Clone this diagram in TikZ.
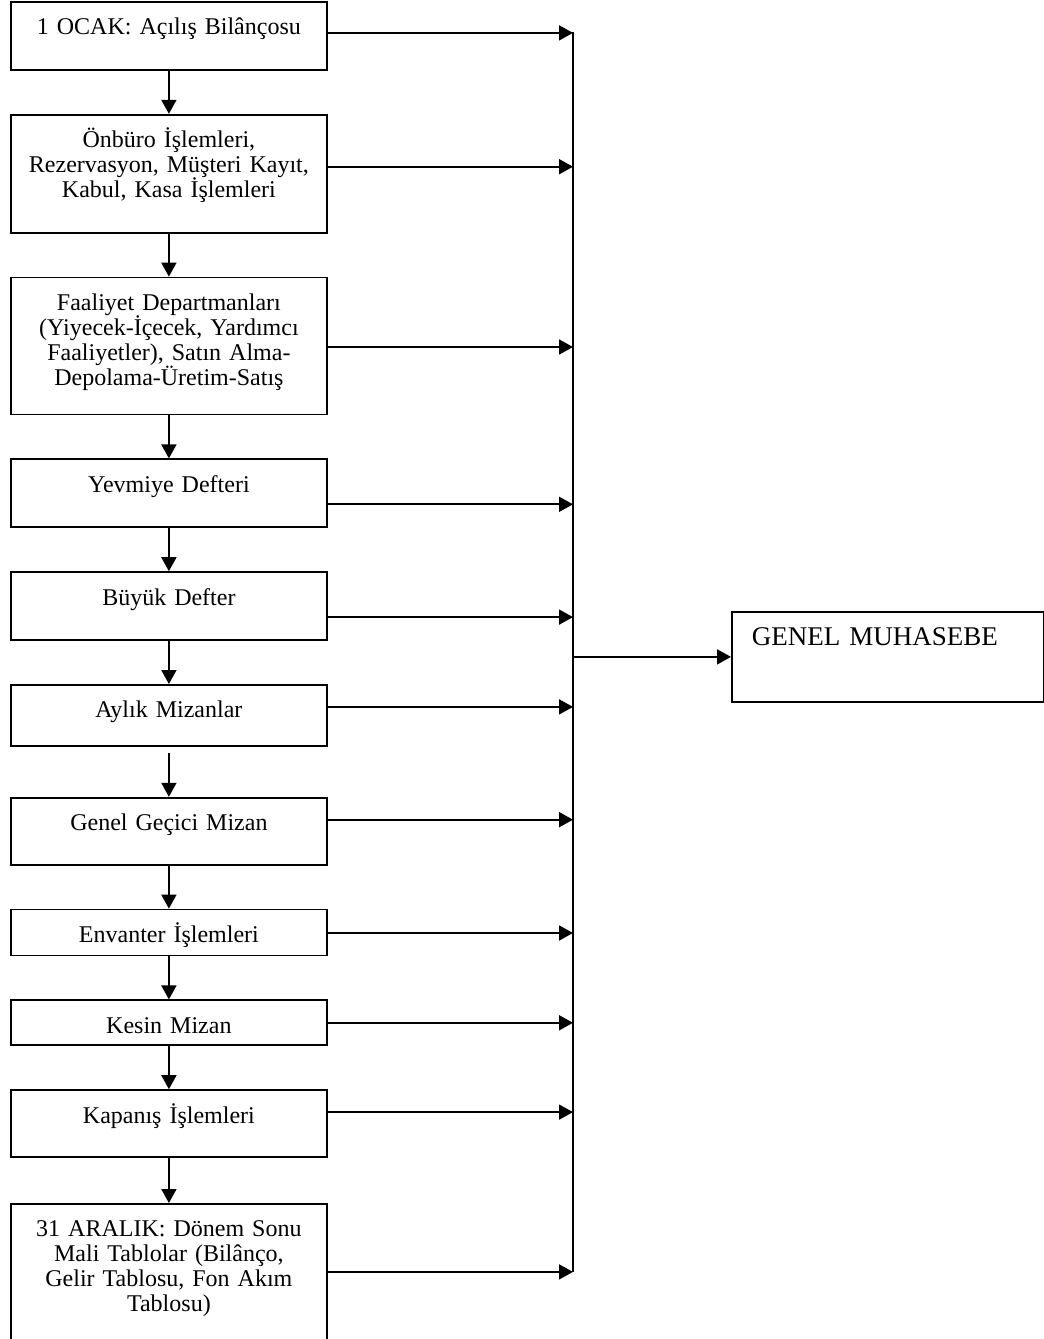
\documentclass[tikz,border=0pt]{standalone}
\usepackage{fontspec}
\setmainfont{Liberation Serif}[WordSpace=0.85]
\usetikzlibrary{arrows.meta, positioning}

\begin{document}
\begin{tikzpicture}[
  x=1pt, y=1pt,
  node distance=43pt,
  every node/.style={font=\fontsize{24}{25}\selectfont},
  >={Triangle[length=14pt, width=15pt]},
  arrow/.style={->, line width=1.8pt},
  stepbox/.style={draw, line width=1.8pt, minimum width=316pt, text width=304pt,
    align=center, inner xsep=6pt, inner ysep=0pt, text height=33pt, text depth=#1}
]
\useasboundingbox (0,0) rectangle (1044,-1339);

% Left column
\node [stepbox=35pt, anchor=north west] (ocak) at (10,-1) {1 OCAK: Açılış Bilânçosu};
\node [stepbox=85pt, below=of ocak] (onburo) {Önbüro İşlemleri,\\ Rezervasyon, Müşteri Kayıt,\\ Kabul, Kasa İşlemleri};
\node [stepbox=104pt, below=of onburo] (faaliyet) {Faaliyet Departmanları\\ (Yiyecek-İçecek, Yardımcı\\ Faaliyetler), Satın Alma-\\ Depolama-Üretim-Satış};
\node [stepbox=35pt, below=of faaliyet] (yevmiye) {Yevmiye Defteri};
\node [stepbox=35pt, below=of yevmiye] (buyuk) {Büyük Defter};
\node [stepbox=28pt, below=of buyuk] (aylik) {Aylık Mizanlar};
\node [stepbox=34pt, below=50pt of aylik] (gecici) {Genel Geçici Mizan};
\node [stepbox=13pt, below=of gecici] (envanter) {Envanter İşlemleri};
\node [stepbox=12pt, below=of envanter] (kesin) {Kesin Mizan};
\node [stepbox=34pt, below=of kesin] (kapanis) {Kapanış İşlemleri};
\node [stepbox=107pt, below=45pt of kapanis] (aralik) {31 ARALIK: Dönem Sonu\\ Mali Tablolar (Bilânço,\\ Gelir Tablosu, Fon Akım\\ Tablosu)};

% Right box
\node [draw, line width=1.8pt, anchor=north west, minimum width=312pt, text width=272pt,
  inner xsep=20pt, inner ysep=0pt, align=left, text height=34pt, text depth=56pt,
  font=\fontsize{27}{28}\selectfont] (genel) at (731,-611) {GENEL MUHASEBE};

\coordinate (bus) at (573,-32);

% Down arrows
\draw[arrow] (ocak) -- (onburo);
\draw[arrow] (onburo) -- (faaliyet);
\draw[arrow] (faaliyet) -- (yevmiye);
\draw[arrow] (yevmiye) -- (buyuk);
\draw[arrow] (buyuk) -- (aylik);
\draw[arrow] ([yshift=-6pt]aylik.south) -- (gecici);
\draw[arrow] (gecici) -- (envanter);
\draw[arrow] (envanter) -- (kesin);
\draw[arrow] (kesin) -- (kapanis);
\draw[arrow] (kapanis) -- (aralik);

% Arrows to the bus
\draw[arrow] ([yshift=3pt]ocak.east) -- ([yshift=3pt]ocak.east -| bus);
\draw[arrow] ([yshift=7pt]onburo.east) -- ([yshift=7pt]onburo.east -| bus);
\draw[arrow] ([yshift=-1pt]faaliyet.east) -- ([yshift=-1pt]faaliyet.east -| bus);
\draw[arrow] ([yshift=-11pt]yevmiye.east) -- ([yshift=-11pt]yevmiye.east -| bus);
\draw[arrow] ([yshift=-11pt]buyuk.east) -- ([yshift=-11pt]buyuk.east -| bus);
\draw[arrow] ([yshift=8.5pt]aylik.east) -- ([yshift=8.5pt]aylik.east -| bus);
\draw[arrow] ([yshift=11.5pt]gecici.east) -- ([yshift=11.5pt]gecici.east -| bus);
\draw[arrow] ([yshift=-0.5pt]envanter.east) -- ([yshift=-0.5pt]envanter.east -| bus);
\draw[arrow] (kesin.east) -- (kesin.east -| bus);
\draw[arrow] ([yshift=11.5pt]kapanis.east) -- ([yshift=11.5pt]kapanis.east -| bus);
\draw[arrow] ([yshift=2pt]aralik.east) -- ([yshift=2pt]aralik.east -| bus);

% Bus and output
\draw[line width=1.8pt] (bus) -- ([yshift=2pt]aralik.east -| bus);
\draw[arrow] (genel.west -| bus) -- (genel);
\end{tikzpicture}
\end{document}
